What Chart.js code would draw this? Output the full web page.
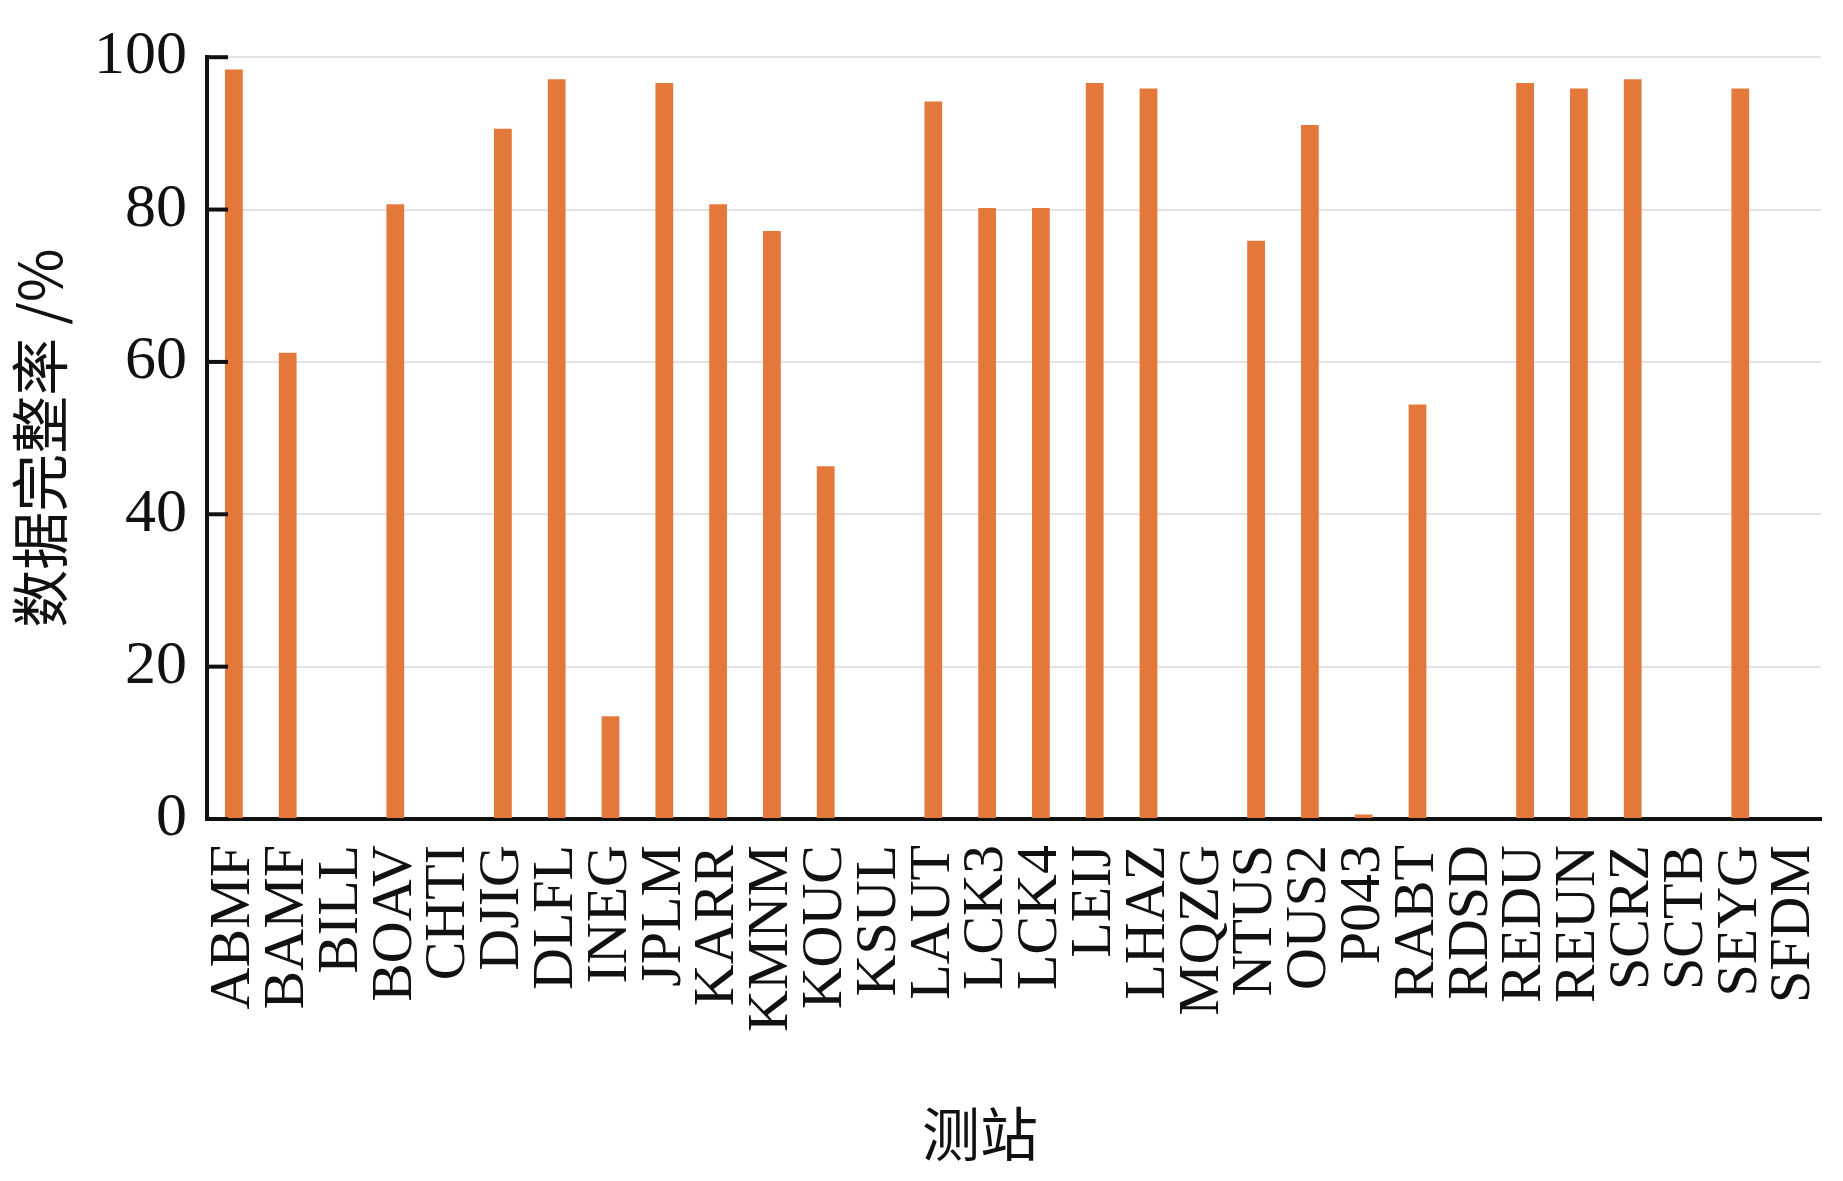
<!DOCTYPE html>
<html>
<head>
<meta charset="utf-8">
<script src="https://cdn.jsdelivr.net/npm/chart.js@4.4.1/dist/chart.umd.min.js"></script>
<style>
    html, body { margin: 0; padding: 0; background: #fff; }
    #wrap { width: 1843px; height: 1181px; position: relative; }
</style>
</head>
<body>
<div id="wrap"><canvas id="completenessChart"></canvas></div>
<script>
// Stations along the x axis
const stations = [
    "ABMF", "BAMF", "BILL", "BOAV", "CHTI", "DJIG", "DLFL", "INEG", "JPLM", "KARR",
    "KMNM", "KOUC", "KSUL", "LAUT", "LCK3", "LCK4", "LEIJ", "LHAZ", "MQZG", "NTUS",
    "OUS2", "P043", "RABT", "RDSD", "REDU", "REUN", "SCRZ", "SCTB", "SEYG", "SFDM"
];
// Data completeness (%)
const completeness = [
    98.4, 61.2, 0, 80.7, 0, 90.6, 97.1, 13.5, 96.6, 80.7,
    77.2, 46.3, 0, 94.2, 80.2, 80.2, 96.6, 95.9, 0, 75.9,
    91.1, 0.6, 54.4, 0, 96.6, 95.9, 97.1, 0, 95.9, 0
];
const yTicks = [0, 20, 40, 60, 80, 100];
const xTitle = "测站";
const yTitle = "数据完整率 /%";

const BAR_COLOR = "#e4783b";
const SERIF = "'Liberation Serif', 'Times New Roman', serif";
const CJK = "'Noto Sans CJK SC', 'Noto Sans', sans-serif";

// short tick marks pointing into the plot + x title (sits a bit left of centre in the original)
const axisExtras = {
    id: "axisExtras",
    afterDraw(chart) {
        const { ctx, chartArea, scales } = chart;
        ctx.save();
        ctx.strokeStyle = "#111";
        ctx.lineWidth = 4;
        yTicks.forEach(v => {
            const y = scales.y.getPixelForValue(v);
            ctx.beginPath();
            ctx.moveTo(chartArea.left - 2, y);
            ctx.lineTo(chartArea.left + 21, y);
            ctx.stroke();
        });

        ctx.fillStyle = "#111";
        ctx.font = "58px " + CJK;
        ctx.textAlign = "center";
        ctx.textBaseline = "middle";
        const cx = (chartArea.left + chartArea.right) / 2 - 34;
        ctx.fillText(xTitle, cx, chart.height - 47);
        ctx.restore();
    }
};

const ctx = document.getElementById("completenessChart").getContext("2d");
new Chart(ctx, {
    type: "bar",
    data: {
        labels: stations,
        datasets: [{
            label: "数据完整率",
            data: completeness,
            backgroundColor: BAR_COLOR,
            borderWidth: 0,
            categoryPercentage: 1.0,
            barPercentage: 0.33
        }]
    },
    options: {
        responsive: true,
        maintainAspectRatio: false,
        animation: false,
        layout: { padding: { top: 47, right: 22, left: 0, bottom: 0 } },
        plugins: {
            legend: { display: false },
            tooltip: { enabled: false }
        },
        scales: {
            x: {
                afterFit: (scale) => {
                    scale.height = 362;
                    scale.paddingLeft = 0;
                    scale.paddingRight = 0;
                },
                grid: { display: false, drawTicks: false },
                border: { display: true, color: "#111", width: 4 },
                ticks: {
                    autoSkip: false,
                    minRotation: 90,
                    maxRotation: 90,
                    padding: 26,
                    color: "#111",
                    font: { family: SERIF, size: 58 }
                }
            },
            y: {
                min: 0,
                max: 100,
                afterFit: (scale) => { scale.width = 207; },
                afterBuildTicks: (scale) => {
                    scale.ticks = yTicks.map(v => ({ value: v }));
                },
                grid: {
                    color: "#e8e0e4",
                    lineWidth: 2,
                    drawTicks: false
                },
                border: { display: true, color: "#111", width: 4 },
                ticks: {
                    padding: 20,
                    color: "#111",
                    font: { family: SERIF, size: 62 }
                },
                title: {
                    display: true,
                    text: yTitle,
                    color: "#111",
                    font: { family: CJK, size: 58 },
                    padding: { top: 5, bottom: 0 }
                }
            }
        }
    },
    plugins: [axisExtras]
});
</script>
</body>
</html>
